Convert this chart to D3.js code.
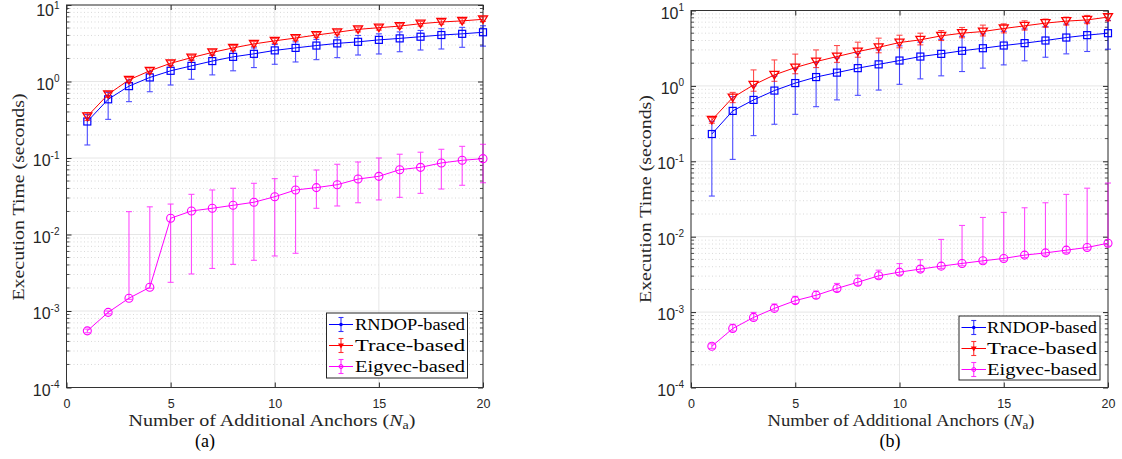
<!DOCTYPE html>
<html>
<head>
<meta charset="utf-8">
<script src="https://cdn.jsdelivr.net/npm/d3@7.9.0/dist/d3.min.js"></script>
<style>
  body { margin: 0; background: #fff; }
  svg { display: block; }
</style>
</head>
<body>
<svg id="chart" width="1122" height="459"></svg>
<script>
// values
const xs = [1, 2, 3, 4, 5, 6, 7, 8, 9, 10, 11, 12, 13, 14, 15, 16, 17, 18, 19, 20];
const xTicks = [0, 5, 10, 15, 20];
const yTicks = [1e-4, 1e-3, 1e-2, 1e-1, 1e0, 1e1];
const yTickExp = ['-4', '-3', '-2', '-1', '0', '1'];
const seriesNames = ['RNDOP-based', 'Trace-based', 'Eigvec-based'];

// panel (a)
const aRndop   = [0.30, 0.585, 0.87, 1.13, 1.38, 1.6, 1.85, 2.1, 2.3, 2.55, 2.75, 2.95, 3.15, 3.3, 3.5, 3.66, 3.85, 4.05, 4.2, 4.4];
const aRndopLo = [0.148, 0.32, 0.545, 0.735, 0.9, 1.07, 1.22, 1.38, 1.52, 1.68, 1.8, 1.93, 2.05, 2.22, 2.29, 2.45, 2.58, 2.66, 2.8, 2.9];
const aRndopHi = [0.37, 0.72, 1.05, 1.35, 1.62, 1.9, 2.2, 2.5, 2.75, 3.05, 3.3, 3.55, 3.8, 4.0, 4.2, 4.45, 4.65, 4.9, 5.1, 5.35];
const aTrace   = [0.35, 0.68, 1.05, 1.38, 1.73, 2.05, 2.4, 2.75, 3.1, 3.4, 3.7, 4.05, 4.4, 4.8, 5.05, 5.3, 5.7, 6.0, 6.2, 6.5];
const aTraceLo = [0.31, 0.62, 0.96, 1.27, 1.6, 1.9, 2.22, 2.55, 2.88, 3.15, 3.45, 3.78, 4.1, 4.45, 4.7, 4.95, 5.3, 5.6, 5.8, 6.1];
const aTraceHi = [0.39, 0.74, 1.13, 1.5, 1.87, 2.2, 2.6, 2.95, 3.33, 3.65, 3.97, 4.35, 4.72, 5.15, 5.42, 5.7, 6.1, 6.45, 6.65, 7.0];
const aEig     = [5.5e-4, 9.6e-4, 1.47e-3, 2.04e-3, 0.0163, 0.0203, 0.022, 0.0241, 0.0264, 0.0312, 0.0382, 0.041, 0.0448, 0.0531, 0.0576, 0.0703, 0.0755, 0.0861, 0.0933, 0.098];
const aEigLo   = [5.2e-4, 9.2e-4, 1.42e-3, 1.98e-3, 2.37e-3, 3.05e-3, 3.6e-3, 4.07e-3, 4.6e-3, 5.24e-3, 5.68e-3, 0.022, 0.0236, 0.026, 0.0283, 0.0306, 0.0345, 0.0393, 0.044, 0.0475];
const aEigHi   = [5.8e-4, 1.0e-3, 0.0199, 0.023, 0.025, 0.0335, 0.0382, 0.0402, 0.0467, 0.0537, 0.0576, 0.0697, 0.0828, 0.0887, 0.1, 0.112, 0.119, 0.13, 0.142, 0.151];

// panel (b)
const bRndop   = [0.23, 0.466, 0.652, 0.867, 1.09, 1.31, 1.5, 1.72, 1.93, 2.17, 2.45, 2.66, 2.92, 3.16, 3.43, 3.69, 4.0, 4.38, 4.71, 5.0];
const bRndopLo = [0.0346, 0.106, 0.219, 0.31, 0.42, 0.53, 0.652, 0.75, 0.88, 1.05, 1.24, 1.36, 1.55, 1.72, 1.9, 2.15, 2.4, 2.66, 2.86, 3.07];
const bRndopHi = [0.34, 0.72, 1.0, 1.35, 1.7, 2.05, 2.35, 2.7, 3.0, 3.4, 3.8, 4.15, 4.55, 4.9, 5.3, 5.7, 6.1, 6.6, 7.0, 7.4];
const bTrace   = [0.353, 0.70, 1.03, 1.40, 1.75, 2.10, 2.45, 2.85, 3.25, 3.76, 4.08, 4.61, 5.0, 5.26, 5.77, 6.26, 6.8, 7.23, 7.5, 8.17];
const bTraceLo = [0.32, 0.6, 0.85, 1.15, 1.45, 1.75, 2.05, 2.4, 2.75, 3.2, 3.5, 4.0, 4.35, 4.6, 5.05, 5.5, 6.0, 6.4, 6.7, 7.3];
const bTraceHi = [0.38, 0.82, 1.63, 2.21, 2.64, 3.0, 3.43, 3.8, 4.3, 4.7, 5.0, 5.42, 5.95, 6.4, 6.65, 7.3, 7.7, 8.17, 8.6, 9.0];
const bEig     = [3.52e-4, 6.05e-4, 8.5e-4, 1.12e-3, 1.42e-3, 1.67e-3, 2.06e-3, 2.49e-3, 3.03e-3, 3.39e-3, 3.72e-3, 4.07e-3, 4.42e-3, 4.79e-3, 5.15e-3, 5.7e-3, 6.1e-3, 6.63e-3, 7.2e-3, 8.2e-3];
const bEigLo   = [3.3e-4, 5.6e-4, 7.9e-4, 1.04e-3, 1.3e-3, 1.52e-3, 1.88e-3, 2.27e-3, 2.8e-3, 3.12e-3, 3.45e-3, 3.8e-3, 4.12e-3, 4.45e-3, 4.8e-3, 5.3e-3, 5.7e-3, 6.2e-3, 6.7e-3, 7.5e-3];
const bEigHi   = [3.8e-4, 6.9e-4, 9.9e-4, 1.28e-3, 1.62e-3, 1.9e-3, 2.4e-3, 3.1e-3, 3.6e-3, 4.4e-3, 4.95e-3, 9.2e-3, 0.0141, 0.018, 0.021, 0.0242, 0.0282, 0.0364, 0.044, 0.0515];

const colors = ['#0000ff', '#ff0000', '#ff00ff'];
const markers = ['square', 'triangle', 'circle'];
const serif = "'Liberation Serif', 'DejaVu Serif', serif";
const sans = "'Liberation Sans', Arial, sans-serif";

const panels = [
  {
    box: { l: 66.5, r: 483, t: 5, b: 387.5 },
    data: [[aRndop, aRndopLo, aRndopHi], [aTrace, aTraceLo, aTraceHi], [aEig, aEigLo, aEigHi]],
    legend: { x: 326.5, y: 313, w: 141, h: 65, line: [329, 353], text: 355 },
    xlabel: { x: 272, len: 287, size: 17.5 },
    ylabel: { x: 18, y: 197, len: 207 },
    caption: { text: '(a)', x: 205 }
  },
  {
    box: { l: 691, r: 1108, t: 10.5, b: 387.5 },
    data: [[bRndop, bRndopLo, bRndopHi], [bTrace, bTraceLo, bTraceHi], [bEig, bEigLo, bEigHi]],
    legend: { x: 959, y: 316, w: 141, h: 64, line: [961.5, 986], text: 987 },
    xlabel: { x: 901, len: 267, size: 16.5 },
    ylabel: { x: 645, y: 199, len: 208 },
    caption: { text: '(b)', x: 890 }
  }
];

const svg = d3.select('#chart');

function drawMarker(g, type, cx, cy, color) {
  if (type === 'square') {
    g.append('rect').attr('x', cx - 3.5).attr('y', cy - 3.5).attr('width', 7).attr('height', 7)
      .attr('fill', 'none').attr('stroke', color).attr('stroke-width', 1.2);
  } else if (type === 'triangle') {
    g.append('path').attr('d', `M${cx - 4.5},${cy - 3.5}L${cx + 4.5},${cy - 3.5}L${cx},${cy + 4}Z`)
      .attr('fill', 'none').attr('stroke', color).attr('stroke-width', 1.3);
  } else {
    g.append('circle').attr('cx', cx).attr('cy', cy).attr('r', 4)
      .attr('fill', 'none').attr('stroke', color).attr('stroke-width', 1.1);
  }
}

panels.forEach(p => {
  const g = svg.append('g');
  const x = d3.scaleLinear().domain([0, 20]).range([p.box.l, p.box.r]);
  const y = d3.scaleLog().domain([1e-4, 1e1]).range([p.box.b, p.box.t]);

  // minor dotted grid
  const minor = [];
  yTicks.slice(0, -1).forEach(d => { for (let k = 2; k <= 9; k++) minor.push(d * k); });
  g.append('g').selectAll('line').data(minor).join('line')
    .attr('x1', p.box.l).attr('x2', p.box.r)
    .attr('y1', d => y(d)).attr('y2', d => y(d))
    .attr('stroke', '#cfcfcf').attr('stroke-width', 0.8).attr('stroke-dasharray', '1,2.5');

  // major grid
  g.append('g').selectAll('line').data(yTicks).join('line')
    .attr('x1', p.box.l).attr('x2', p.box.r)
    .attr('y1', d => y(d)).attr('y2', d => y(d))
    .attr('stroke', '#e6e6e6').attr('stroke-width', 1);
  g.append('g').selectAll('line').data(xTicks).join('line')
    .attr('x1', d => x(d)).attr('x2', d => x(d))
    .attr('y1', p.box.t).attr('y2', p.box.b)
    .attr('stroke', '#e6e6e6').attr('stroke-width', 1);

  // axes with inner ticks
  const xAxis = d3.axisBottom(x).tickValues(xTicks).tickSize(-5).tickPadding(12).tickFormat(d3.format('d'));
  const xa = g.append('g').attr('transform', `translate(0,${p.box.b})`).call(xAxis);
  xa.select('.domain').remove();
  xa.selectAll('line').attr('stroke', '#262626');
  xa.selectAll('text').attr('font-family', sans).attr('font-size', 12.5).attr('fill', '#262626');

  const xTop = d3.axisTop(x).tickValues(xTicks).tickSize(-5).tickFormat('');
  const xt = g.append('g').attr('transform', `translate(0,${p.box.t})`).call(xTop);
  xt.select('.domain').remove();
  xt.selectAll('line').attr('stroke', '#262626');

  const yAxis = d3.axisLeft(y).tickValues(yTicks).tickSize(-5).tickPadding(9).tickFormat('');
  const ya = g.append('g').attr('transform', `translate(${p.box.l},0)`).call(yAxis);
  ya.select('.domain').remove();
  ya.selectAll('line').attr('stroke', '#262626');
  const yR = d3.axisRight(y).tickValues(yTicks).tickSize(-5).tickFormat('');
  const yr = g.append('g').attr('transform', `translate(${p.box.r},0)`).call(yR);
  yr.select('.domain').remove();
  yr.selectAll('line').attr('stroke', '#262626');

  // minor ticks
  [p.box.l, p.box.r].forEach((xx, i) => {
    g.append('g').selectAll('line').data(minor).join('line')
      .attr('x1', xx).attr('x2', i === 0 ? xx + 3 : xx - 3)
      .attr('y1', d => y(d)).attr('y2', d => y(d))
      .attr('stroke', '#262626').attr('stroke-width', 0.8);
  });

  // y tick labels 10^k (base sits a little below the tick, exponent at the tick)
  yTicks.forEach((d, i) => {
    const base = Math.max(y(d) + 8, 16);
    const t = g.append('text').attr('x', p.box.l - 7).attr('y', base)
      .attr('text-anchor', 'end').attr('font-family', sans).attr('fill', '#262626');
    t.append('tspan').attr('font-size', 16).text('10');
    t.append('tspan').attr('font-size', 10).attr('dy', -7.5).text(yTickExp[i]);
  });

  // box
  g.append('rect').attr('x', p.box.l).attr('y', p.box.t)
    .attr('width', p.box.r - p.box.l).attr('height', p.box.b - p.box.t)
    .attr('fill', 'none').attr('stroke', '#333').attr('stroke-width', 1);

  // series
  p.data.forEach((s, si) => {
    const [vals, lo, hi] = s;
    const color = colors[si];
    const sg = g.append('g');
    const eb = sg.append('g').attr('stroke', color).attr('stroke-width', 1.1).attr('opacity', 0.7);
    xs.forEach((xv, i) => {
      const cx = x(xv);
      eb.append('line').attr('x1', cx).attr('x2', cx).attr('y1', y(lo[i])).attr('y2', y(hi[i]));
      eb.append('line').attr('x1', cx - 3).attr('x2', cx + 3).attr('y1', y(lo[i])).attr('y2', y(lo[i]));
      eb.append('line').attr('x1', cx - 3).attr('x2', cx + 3).attr('y1', y(hi[i])).attr('y2', y(hi[i]));
    });
    const line = d3.line().x((d, i) => x(xs[i])).y(d => y(d));
    sg.append('path').datum(vals).attr('d', line)
      .attr('fill', 'none').attr('stroke', color).attr('stroke-width', 1);
    xs.forEach((xv, i) => drawMarker(sg, markers[si], x(xv), y(vals[i]), color));
  });

  // legend
  const L = p.legend;
  const lg = g.append('g');
  lg.append('rect').attr('x', L.x).attr('y', L.y).attr('width', L.w).attr('height', L.h)
    .attr('fill', '#fff').attr('stroke', '#262626').attr('stroke-width', 1);
  seriesNames.forEach((name, i) => {
    const cy = L.y + 11.5 + i * 21;
    const cx = (L.line[0] + L.line[1]) / 2;
    const color = colors[i];
    lg.append('line').attr('x1', L.line[0]).attr('x2', L.line[1]).attr('y1', cy).attr('y2', cy)
      .attr('stroke', color).attr('stroke-width', 1);
    const e = lg.append('g').attr('stroke', color).attr('stroke-width', 1.1).attr('opacity', 0.8);
    e.append('line').attr('x1', cx).attr('x2', cx).attr('y1', cy - 7).attr('y2', cy + 7);
    e.append('line').attr('x1', cx - 2.5).attr('x2', cx + 2.5).attr('y1', cy - 7).attr('y2', cy - 7);
    e.append('line').attr('x1', cx - 2.5).attr('x2', cx + 2.5).attr('y1', cy + 7).attr('y2', cy + 7);
    if (i === 0) lg.append('circle').attr('cx', cx).attr('cy', cy).attr('r', 1.8).attr('fill', color);
    else if (i === 1) lg.append('path').attr('d', `M${cx - 3},${cy - 2}L${cx + 3},${cy - 2}L${cx},${cy + 3}Z`).attr('fill', color);
    else lg.append('circle').attr('cx', cx).attr('cy', cy).attr('r', 2).attr('fill', 'none').attr('stroke', color);
    lg.append('text').attr('x', L.text).attr('y', cy + 5)
      .attr('font-family', serif).attr('font-size', 16).attr('fill', '#000')
      .attr('textLength', 110).attr('lengthAdjust', 'spacingAndGlyphs').text(name);
  });

  // axis labels
  const xl = g.append('text').attr('x', p.xlabel.x).attr('y', 426).attr('text-anchor', 'middle')
    .attr('font-family', serif).attr('font-size', p.xlabel.size).attr('fill', '#262626')
    .attr('textLength', p.xlabel.len).attr('lengthAdjust', 'spacingAndGlyphs');
  xl.append('tspan').text('Number of Additional Anchors (');
  xl.append('tspan').attr('font-style', 'italic').text('N');
  xl.append('tspan').attr('font-size', p.xlabel.size * 0.7).attr('dy', 3).text('a');
  xl.append('tspan').attr('dy', -3).text(')');

  g.append('text').attr('transform', `translate(${p.ylabel.x + 6},${p.ylabel.y}) rotate(-90)`)
    .attr('text-anchor', 'middle').attr('font-family', serif).attr('font-size', 17.5)
    .attr('fill', '#262626').attr('textLength', p.ylabel.len).attr('lengthAdjust', 'spacingAndGlyphs')
    .text('Execution Time (seconds)');

  g.append('text').attr('x', p.caption.x).attr('y', 447).attr('text-anchor', 'middle')
    .attr('font-family', serif).attr('font-size', 18).attr('fill', '#000').text(p.caption.text);
});
</script>
</body>
</html>
